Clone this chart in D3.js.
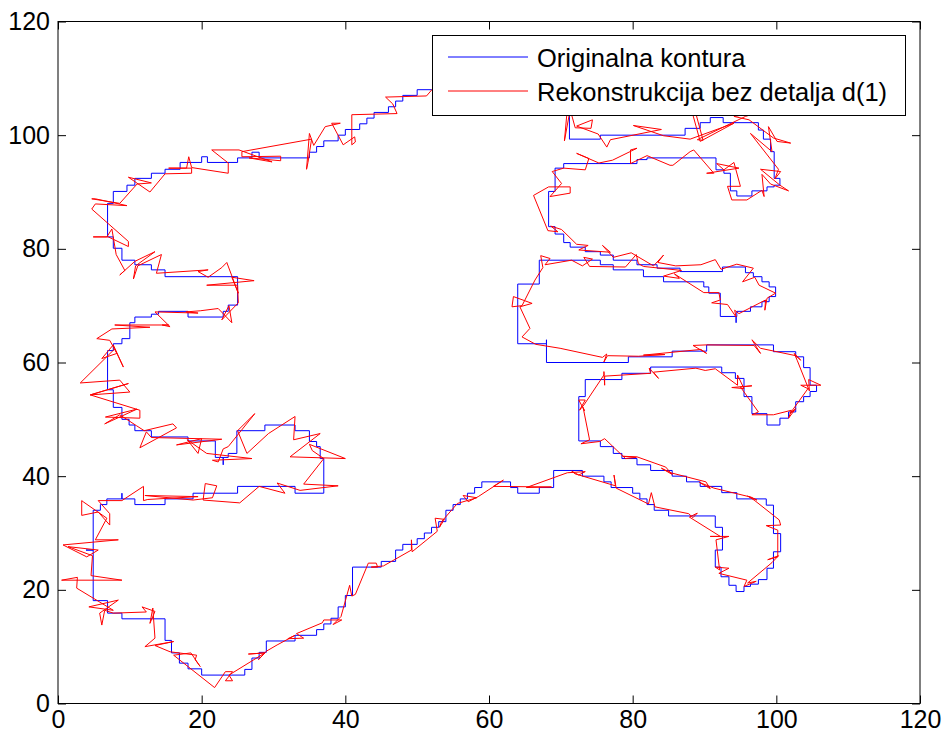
<!DOCTYPE html>
<html>
<head>
<meta charset="utf-8">
<script src="https://cdn.jsdelivr.net/npm/d3@7"></script>
<style>
  html, body { margin: 0; padding: 0; background: #fff; }
  svg { display: block; font-family: "Liberation Sans", Arial, Helvetica, sans-serif; }
</style>
</head>
<body>
<svg id="chart" width="952" height="740"></svg>
<script>
// ---- data -------------------------------------------------------------
const xTicks = [0, 20, 40, 60, 80, 100, 120];
const yTicks = [0, 20, 40, 60, 80, 100, 120];
const legendLabels = ["Originalna kontura", "Rekonstrukcija bez detalja d(1)"];

// Original contour (staircase), split into consecutive pieces
const origBottom = [[20,5],[26,5],[26,6],[27,6],[27,8],[28,8],[28,9],[29,9],[29,11],[33,11],[33,12],[36,12],[36,13],[37,13],[37,14],[38,14],[38,15],[39,15],[39,17],[40,17],[40,19],[41,19],[41,24],[45,24],[45,25],[47,25],[47,27],[48,27],[48,28],[50,28],[50,29],[51,29],[51,30],[52,30],[52,31],[53,31],[53,32],[54,32],[54,34],[55,34],[55,35],[56,35],[56,36],[57,36],[57,37],[58,37],[58,38],[59,38],[59,39],[63,39],[63,38],[64,38],[64,37],[67,37],[67,38],[69,38],[69,41],[73,41],[73,40],[76,40],[76,39],[77,39],[77,38],[80,38],[80,37],[81,37],[81,36],[82,36],[82,35],[83,35],[83,34],[85,34],[85,33]];
const origHook = [[91.5,33],[91.5,31],[92.5,31],[92.5,27],[91.5,27],[91.5,24],[92.3,24],[92.3,22.3],[93.4,22.3],[93.4,20.8],[94.4,20.8],[94.4,19.7],[95.5,19.7],[95.5,20.6],[96.4,20.6],[96.4,21],[97.5,21],[97.5,21.8],[98.7,21.8],[98.7,23.8],[99.6,23.8],[99.6,26.7],[100.6,26.7],[100.6,29.9],[99.6,29.9],[99.6,34.9],[98.6,34.9],[98.6,36],[94.5,36],[94.5,37.1],[92.4,37.1],[92.4,38.2],[89.4,38.2],[89.4,39],[87.5,39],[87.5,40],[85.5,40],[85.5,41],[82.5,41],[82.5,42],[80.6,42],[80.6,43.1],[78.5,43.1],[78.5,44],[77.3,44],[77.3,45.2],[75.5,45.2],[75.5,46.2],[72.5,46.2]];
const origMiddleBand = [[72.5,54],[73.4,54],[73.4,57],[78.5,57],[78.5,58.1],[82.5,58.1],[82.5,59.2],[92.4,59.2],[92.4,58.2],[94.3,58.2],[94.3,57.2],[95.5,57.2],[95.5,54],[96.6,54],[96.6,51],[98.7,51],[98.7,49],[100.5,49],[100.5,50.2],[101.7,50.2],[101.7,51.3],[102.7,51.3],[102.7,53.1],[103.8,53.1],[103.8,54],[104.7,54],[104.7,54.9],[105.6,54.9],[105.6,56],[104.7,56],[104.7,59.1],[103.8,59.1],[103.8,61],[102.7,61],[102.7,61.9],[99.6,61.9],[99.6,63.1],[90.3,63.1],[90.3,62],[85.5,62],[85.5,61],[79.4,61],[79.4,60],[68,60],[68,63.3],[68,64],[68,63.3],[64,63.3]];
const origMiddleLoop = [[64,73.8],[67,73.8],[67,78],[75.5,78],[75.5,77.2],[77.3,77.2],[77.3,76.3],[81.5,76.3],[81.5,75.1],[84.3,75.1],[84.3,74.2],[89.9,74.2],[89.9,73.3],[90.6,73.3],[90.6,72.2],[92.2,72.2],[92.2,68.1],[94.4,68.1],[94.4,67],[94.4,68.1],[94.5,68.1],[94.5,69],[96.4,69],[96.4,69.8],[98,69.8],[98,70.7],[99,70.7],[99,71.6],[99.9,71.6],[99.9,73.3],[99,73.3],[99,74.2],[98,74.2],[98,75.1],[96.8,75.1],[96.8,75.8],[95.7,75.8],[95.7,76.8],[92.5,76.8],[92.5,76],[86.6,76],[86.6,76.6],[83.4,76.6],[83.4,77.2],[80.6,77.2],[80.6,78],[77.3,78],[77.3,78.9],[75.5,78.9],[75.5,79.5],[73.4,79.5],[73.4,80.3],[71.3,80.3],[71.3,81.1],[70.4,81.1],[70.4,82.6],[69.2,82.6],[69.2,83.9],[68.3,83.9],[68.3,90.1],[69.2,90.1],[69.2,94.2],[70.4,94.2],[70.4,95]];
const origTopLoop = [[80.6,95],[80.6,95.7],[82,95.7],[82,96],[91.6,96],[91.6,93.9],[92.7,93.9],[92.7,93.3],[93.6,93.3],[93.6,90.2],[94.5,90.2],[94.5,89.3],[96.6,89.3],[96.6,90.2],[98.7,90.2],[98.7,90.9],[99.7,90.9],[99.7,91.2],[100.5,91.2],[100.5,92.4],[99.7,92.4],[99.7,97.1],[99.2,97.1],[99.2,99.3],[98.2,99.3],[98.2,100.9],[97.5,100.9],[97.5,102.2],[92.6,102.2],[92.6,103.1],[90.8,103.1],[90.8,102.2],[89.4,102.2],[89.4,101.2],[87.3,101.2],[87.3,100],[75.5,100],[75.5,99.3],[71.2,99.3],[71.2,104.5],[69,107],[62,110],[55,109.5],[52,108]];
const origLeftSide = [[50,108],[50,107],[48,107],[48,106],[47,106],[47,105],[46,105],[46,104],[44,104],[44,103],[43,103],[43,102],[42,102],[42,101],[40,101],[40,100],[39,100],[39,99],[37,99],[37,98],[36,98],[36,97],[35,97],[35,96],[28,96],[28,97],[27,97],[27,96],[25,96],[25,95.2],[20.8,95.2],[20.8,96.2],[20,96.2],[20,95.2],[17,95.2],[17,94],[14.9,94],[14.9,93.3],[13,93.3],[13,92.4],[10.7,92.4],[10.7,91.2],[9.6,91.2],[9.6,90.1],[7.7,90.1],[7.7,88],[6.9,88],[6.9,82.1],[7.7,82.1],[7.7,80.1],[8.9,80.1],[8.9,78],[10.7,78],[10.7,77.2],[13,77.2],[13,76.3],[14.9,76.3],[14.9,75.1],[25,75.1],[25,70.1],[23.7,70.1],[23.7,69],[23,69],[23,68],[18.1,68],[18.1,69],[14,69],[14,68.5],[13,68.5],[13,68],[10.7,68],[10.7,67],[10,67],[10,64.2],[8.9,64.2],[8.9,63.3],[7.7,63.3],[7.7,62.1],[6.9,62.1],[6.9,55.2],[7.7,55.2],[7.7,52.1],[8.9,52.1],[8.9,50],[9.9,50],[9.9,49],[10.7,49],[10.7,48],[13,48],[13,46.9],[18.1,46.9],[18.1,46.2],[21.9,46.2],[21.9,43.3],[23,43.3],[23,42],[23,43.3],[23.7,43.3],[23.7,44],[24.9,44],[24.9,48],[28.8,48],[28.8,49],[33,49],[33,48],[35,48],[35,46.1],[36,46.1],[36,45.2],[36.5,45.2],[36.5,43.1],[37,43.1],[37,37],[33,37],[33,38.2],[25,38.2],[25,37],[18.8,37],[18.8,36],[14.9,36],[14.9,35],[10.7,35],[10.7,36],[8.9,36],[8.9,37],[8.9,36],[6.8,36],[6.8,35],[5.9,35],[5.9,34],[4.9,34],[4.9,27],[3.9,27],[4.9,27],[4.9,18.1],[6.9,18.1],[6.9,15.9],[8.9,15.9],[8.9,14.9],[14.9,14.9],[14.9,11.1],[15.8,11.1],[15.8,8.9],[16.9,8.9],[16.9,7.1],[18.1,7.1],[18.1,6.1],[20,6.1],[20,5]];

// Reconstruction without detail d(1), same traversal order
const reconBottom = [[21.8,2.8],[23.3,5.6],[24.3,5.6],[23.3,4.0],[24.3,4.0],[23.8,5.0],[28.8,8.9],[26.5,8.7],[28.8,8.9],[27.9,7.7],[29.0,9.2],[30.5,10.3],[33.0,12.0],[32.0,11.4],[34.2,11.5],[33.2,12.3],[36.8,14.2],[37.0,14.7],[39.5,14.7],[38.3,13.9],[39.4,15.3],[40.6,20.8],[40.9,18.9],[41.4,19.2],[43.2,24.7],[44.3,24.7],[44.5,24.0],[43.6,24.0],[45.3,24.2],[49.2,27.0],[49.2,28.8],[49.3,26.7],[52.8,30.3],[52.5,32.6],[53.8,32.4],[53.1,31.0],[53.4,32.0],[55.6,35.2],[58.3,36.2],[56.4,36.6],[57.1,35.5],[58.5,36.4],[62.0,39.3],[60.6,38.2],[68.7,38.1],[65.2,38.0],[70.9,40.6],[73.4,40.8],[72.5,40.2],[71.5,40.9],[72.0,40.4],[77.6,38.3],[77.4,40.2],[77.7,37.9],[82.2,35.1],[82.6,37.1],[83.1,34.6],[87.8,33.4],[88.4,32.7],[89.0,33.5],[87.9,32.8]];
const reconHook = [[92.2,29.4],[90.8,29.4],[93.4,29.4],[91.6,28.8],[92.1,23.5],[91.5,24.0],[93.4,23.8],[92.0,22.9],[95.9,21.7],[95.5,20.6],[97.2,21.5],[96.0,21.2],[99.4,24.8],[100.3,26.0],[98.8,25.3],[100.2,25.8],[100.2,30.5],[98.6,31.3],[100.6,31.4],[100.4,32.3],[96.9,35.8],[96.0,36.5],[97.3,35.8],[96.5,36.3],[91.3,37.9],[89.3,38.9],[90.8,37.8],[90.2,39.0],[85.3,40.6],[84.0,41.4],[85.5,40.3],[84.6,41.6],[80.6,43.4],[78.6,43.5],[80.5,43.3],[79.0,43.1],[76.1,46.6],[75.4,46.1],[72.8,45.7],[74.0,46.4]];
const reconMiddleBand = [[73.1,52.1],[73.3,51.5],[72.5,53.4],[73.4,53.4],[72.6,51.6],[73.2,52.5],[76.0,57.8],[76.0,58.4],[76.1,56.0],[76.1,57.6],[82.5,58.1],[82.3,59.0],[83.6,57.2],[82.9,58.3],[88.8,59.0],[90.1,58.6],[91.5,58.9],[94.6,56.0],[94.6,57.8],[95.5,55.4],[93.8,55.6],[96.6,55.9],[95.0,55.7],[97.5,51.3],[96.6,50.8],[99.6,50.8],[102.1,51.6],[101.7,50.2],[102.7,51.9],[101.9,51.0],[104.4,55.4],[103.4,56.0],[106.2,56.0],[104.5,57.0],[104.6,55.0],[102.9,60.4],[102.5,61.6],[103.4,60.4],[102.7,61.2],[97.8,62.5],[96.6,64.0],[97.8,61.6],[96.9,63.0],[90.3,63.1],[88.4,63.0],[90.3,61.6],[89.5,62.3],[81.5,61.3],[84.5,61.4],[80.8,61.1],[76.5,61.2],[76.0,60.1],[76.4,61.5],[75.8,60.9],[69.9,62.5],[66.5,63.2],[64.6,64.5],[65.7,66.0]];
const reconMiddleLoop = [[64.3,69.8],[66.0,70.4],[63.4,71.6],[63.2,69.8],[64.6,70.0],[66.4,74.5],[67.5,76.7],[67.2,78.8],[68.5,78.3],[67.8,77.2],[71.5,78.0],[73.0,77.0],[74.4,78.2],[73.2,78.5],[74.0,76.9],[79.0,76.8],[80.5,79.0],[80.8,77.4],[81.5,76.9],[86.8,76.2],[84.3,75.2],[86.5,74.8],[85.8,75.6],[89.9,72.3],[92.0,72.3],[92.2,71.0],[91.0,70.5],[93.2,70.2],[94.4,68.0],[94.2,69.2],[94.8,68.6],[98.5,71.0],[98.4,69.2],[98.7,71.3],[99.9,72.2],[97.6,73.6],[97.0,75.0],[95.3,74.2],[96.8,76.6],[94.5,77.3],[92.3,76.4],[91.5,78.1],[89.5,77.2],[86.0,77.0],[83.5,77.6],[84.3,78.9],[82.9,77.0],[79.8,79.3],[77.3,78.5],[75.8,80.6],[76.9,79.4],[72.5,79.8],[73.8,80.6],[72.2,80.8],[70.1,83.4],[68.6,84.0],[69.6,83.0],[68.2,83.2],[66.2,89.4],[68.3,90.9],[71.3,90.9],[71.3,89.8],[68.5,89.2],[70.1,91.5],[68.8,93.6],[70.4,94.2]];
const reconTopLoop = [[73.4,93.9],[73.9,95.9],[72.2,96.8],[75.3,95.1],[77.2,95.6],[80.6,97.7],[79.7,97.4],[79.7,95.0],[82.0,96.4],[85.2,94.7],[85.6,94.7],[88.0,97.1],[88.5,97.4],[91.3,93.3],[90.3,93.3],[94.8,94.2],[91.7,95.0],[92.7,93.9],[94.1,95.2],[95.0,91.0],[93.2,91.0],[93.8,88.6],[95.9,88.6],[98.0,90.3],[98.3,89.2],[98.0,93.1],[99.2,91.4],[101.7,90.2],[100.5,91.2],[97.8,94.0],[100.6,93.6],[99.8,92.3],[100.3,94.0],[96.4,100.3],[99.4,97.1],[98.9,101.5],[100.1,98.9],[102.0,98.6],[99.6,99.5],[96.2,102.7],[94.1,103.3],[97.5,104.0],[95.7,103.3],[89.0,99.2],[89.8,99.1],[88.8,103.8],[88.4,103.5],[89.4,98.9],[94.1,102.1],[88.0,99.3],[84.3,99.9],[80.1,101.7],[84.0,101.0],[76.9,99.2],[76.4,97.9],[75.2,100.2],[72.2,101.6],[74.4,102.7],[74.2,101.2],[72.0,101.3],[71.3,104.5],[70.5,99.0],[71.0,106.0],[64.0,110.0],[56.0,110.5],[52.6,108.8]];
const reconTopLeft = [[51.3,106.9],[45.6,106.7],[46.6,105.5],[47.2,103.8],[40.9,103.6],[40.9,98.3],[41.4,98.8],[41.3,99.7],[39.7,98.3],[38.1,102.1],[39.3,102.1],[37.2,101.5],[35.6,98.2],[35.0,100.3],[34.6,94.0],[34.8,95.2],[35.3,99.3],[25.6,97.1],[25.6,96.2],[31.0,96.3],[31.0,95.5],[26.6,96.0],[29.8,95.3],[25.2,97.4],[21.4,97.4],[23.7,95.1],[23.7,93.3],[18.6,94.3],[18.2,96.2],[17.9,94.2],[15.4,94.2],[18.6,94.2],[18.6,93.3],[14.9,93.2],[12.8,90.0],[9.8,92.6],[13.0,91.6],[11.0,91.4],[8.6,88.0],[4.7,88.8],[5.2,88.8],[9.6,87.6],[5.2,87.9],[4.7,87.0],[9.8,81.3],[9.8,80.4],[7.0,82.1],[4.9,82.1],[6.8,82.1],[7.5,83.5],[8.1,79.0],[9.3,76.2],[8.6,75.4],[10.7,77.8],[13.5,79.5],[10.8,77.0],[10.5,74.7],[11.1,77.0],[14.4,79.0],[13.7,75.7],[20.9,76.3],[19.5,76.0],[20.9,75.0],[22.8,76.7],[23.5,77.6],[25.1,72.2],[24.2,75.0],[27.3,74.4],[20.7,73.6],[25.0,73.6],[25.1,70.5],[22.8,67.5],[23.8,70.0],[24.2,67.0],[22.3,69.5],[19.8,69.1],[17.8,68.9],[19.5,68.7],[13.5,68.9],[15.6,66.3],[14.5,66.6]];
const reconLeftSide = [[15.4,66.6],[7.9,66.6],[12.8,66.2],[7.5,65.9],[5.4,64.2],[7.2,63.9],[8.2,61.6],[6.1,60.7],[7.7,63.1],[9.1,59.2],[7.9,62.4],[3.1,56.4],[8.6,56.9],[10.0,54.8],[4.5,54.3],[9.8,56.3],[4.5,54.3],[11.4,51.6],[11.4,50.2],[6.6,50.4],[11.0,51.8],[6.5,49.2],[8.6,50.8],[10.9,48.9],[12.0,48.0],[16.0,49.2],[16.5,48.5],[11.4,45.0],[12.3,47.8],[13.0,46.8],[22.8,46.5],[16.5,45.5],[20.0,46.6],[19.5,44.0],[18.0,46.4],[20.7,44.0],[27.0,43.1],[21.5,42.8],[22.3,42.5],[23.0,44.8],[23.7,45.2],[27.4,51.0],[25.0,48.0],[26.3,44.0],[29.3,47.5],[33.0,50.5],[32.8,46.4],[36.5,47.5],[32.3,43.4],[40.0,43.1],[35.0,45.6],[35.4,44.5],[37.0,43.1],[34.2,38.6],[39.0,38.3],[33.7,37.5],[30.5,38.8],[31.6,37.0],[28.0,38.2],[25.3,35.3],[20.2,35.8],[20.5,38.7],[22.1,38.3],[21.5,36.2],[18.8,35.8],[12.1,36.6],[19.5,36.4],[12.5,35.9],[11.9,35.7],[11.9,38.2],[8.9,35.7],[5.6,35.7],[7.2,33.4],[7.2,31.4],[5.6,33.7],[3.3,33.1],[3.3,35.7],[3.5,35.5],[6.8,32.6],[5.2,28.8],[8.4,28.8],[0.7,27.9],[4.0,25.8],[5.6,27.0],[1.4,27.6],[4.8,26.0],[4.6,22.5],[8.9,21.7],[0.5,21.7],[2.7,22.2],[2.6,20.3],[7.7,16.4],[4.3,17.0],[8.4,18.2],[5.8,15.9],[6.1,13.8],[6.5,16.4],[7.7,15.9],[12.3,16.1],[11.7,17.0],[13.5,16.2],[12.8,14.1],[13.2,16.8],[13.5,11.5],[12.1,10.0],[16.1,10.9],[13.5,10.2],[15.6,9.1],[19.3,8.5],[19.1,7.7],[19.8,6.5],[18.5,8.9],[16.1,8.5],[21.8,2.8]];

const originalContour = [].concat(origBottom, origHook, origMiddleBand, origMiddleLoop, origTopLoop, origLeftSide);
const reconstruction = [].concat(reconBottom, reconHook, reconMiddleBand, reconMiddleLoop, reconTopLoop, reconTopLeft, reconLeftSide);

// ---- layout -----------------------------------------------------------
const svg = d3.select("#chart");
const plot = { left: 58, right: 920, top: 21.5, bottom: 703.5 };

const x = d3.scaleLinear().domain([0, 120]).range([plot.left, plot.right]);
const y = d3.scaleLinear().domain([0, 120]).range([plot.bottom, plot.top]);

svg.append("rect").attr("width", 952).attr("height", 740).attr("fill", "#fff");

svg.append("defs").append("clipPath").attr("id", "plot-clip")
  .append("rect")
  .attr("x", plot.left).attr("y", plot.top)
  .attr("width", plot.right - plot.left).attr("height", plot.bottom - plot.top);

const line = d3.line().x(d => x(d[0])).y(d => y(d[1]));

const curves = svg.append("g").attr("clip-path", "url(#plot-clip)");
curves.append("path")
  .datum(originalContour)
  .attr("d", line)
  .attr("fill", "none")
  .attr("stroke", "#0000ff")
  .attr("stroke-width", 1);
curves.append("path")
  .datum(reconstruction)
  .attr("d", line)
  .attr("fill", "none")
  .attr("stroke", "#ff0000")
  .attr("stroke-width", 1)
  .attr("stroke-linejoin", "miter");

// ---- axes (ticks inside on all four sides) ------------------------------
const fontSize = 25;
function styleAxis(g) {
  g.select(".domain").remove();
  g.selectAll(".tick line").attr("stroke", "#000");
  g.selectAll(".tick text").attr("fill", "#000")
    .attr("font-size", fontSize)
    .attr("font-family", "\"Liberation Sans\", Arial, Helvetica, sans-serif");
}

svg.append("g")
  .attr("transform", `translate(0,${plot.bottom})`)
  .call(d3.axisBottom(x).tickValues(xTicks).tickSize(-8).tickPadding(7).tickFormat(d3.format("d")))
  .call(styleAxis);
svg.append("g")
  .attr("transform", `translate(${plot.left},0)`)
  .call(d3.axisLeft(y).tickValues(yTicks).tickSize(-8).tickPadding(8).tickFormat(d3.format("d")))
  .call(styleAxis);
svg.append("g")
  .attr("transform", `translate(0,${plot.top})`)
  .call(d3.axisTop(x).tickValues(xTicks).tickSize(-8).tickFormat(""))
  .call(styleAxis);
svg.append("g")
  .attr("transform", `translate(${plot.right},0)`)
  .call(d3.axisRight(y).tickValues(yTicks).tickSize(-8).tickFormat(""))
  .call(styleAxis);

svg.append("rect")
  .attr("x", plot.left).attr("y", plot.top)
  .attr("width", plot.right - plot.left).attr("height", plot.bottom - plot.top)
  .attr("fill", "none").attr("stroke", "#000").attr("stroke-width", 1);

// ---- legend -----------------------------------------------------------
const legend = svg.append("g");
legend.append("rect")
  .attr("x", 432.5).attr("y", 35.5).attr("width", 473).attr("height", 80)
  .attr("fill", "#fff").attr("stroke", "#000").attr("stroke-width", 1);

const legendColors = ["#0000ff", "#ff0000"];
const legendRows = [57, 91];
legendLabels.forEach((label, i) => {
  legend.append("line")
    .attr("x1", 448).attr("x2", 528)
    .attr("y1", legendRows[i]).attr("y2", legendRows[i])
    .attr("stroke", legendColors[i]).attr("stroke-width", 1);
  legend.append("text")
    .attr("x", 537).attr("y", legendRows[i] + 10)
    .attr("font-size", 25.5)
    .attr("fill", "#000")
    .text(label);
});
</script>
</body>
</html>
